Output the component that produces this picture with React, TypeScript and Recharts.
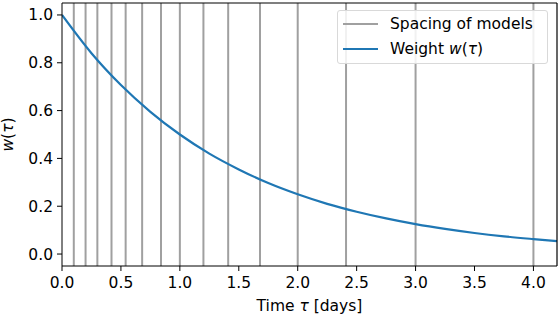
import React from 'react';
import { LineChart, Line, XAxis, YAxis, ReferenceLine } from 'recharts';

// values
const tau = [0, 0.25, 0.5, 0.75, 1.0, 1.25, 1.5, 1.75, 2.0, 2.25, 2.5, 2.75, 3.0, 3.25, 3.5, 3.75, 4.0, 4.2];
const weight = [1.0, 0.84, 0.707, 0.595, 0.5, 0.42, 0.354, 0.297, 0.25, 0.21, 0.177, 0.149, 0.125, 0.105, 0.088, 0.074, 0.0625, 0.054];
const modelSpacing = [0.1, 0.2, 0.3, 0.42, 0.54, 0.68, 0.84, 1.0, 1.2, 1.41, 1.68, 2.0, 2.41, 3.0, 4.0];
const xTicks = [0, 0.5, 1.0, 1.5, 2.0, 2.5, 3.0, 3.5, 4.0];
const yTicks = [0, 0.2, 0.4, 0.6, 0.8, 1.0];

const data = tau.map((t, i) => ({ tau: t, weight: weight[i] }));

const FONT = 'DejaVu Sans, sans-serif';
const FS = 15.5;
const BLUE = '#1f77b4';
const GREY = '#a0a0a0';

const LegendBox = () => (
  <div
    style={{
      position: 'absolute',
      left: 337,
      top: 10,
      width: 211,
      height: 54,
      border: '1px solid #d9d9d9',
      borderRadius: 3,
      background: 'rgba(255,255,255,0.85)',
      fontFamily: FONT,
      fontSize: FS,
      lineHeight: '18px',
      color: '#000',
      boxSizing: 'border-box',
    }}
  >
    <div style={{ position: 'absolute', left: 5, top: 12, width: 35, height: 2, background: GREY }} />
    <div style={{ position: 'absolute', left: 52, top: 4, whiteSpace: 'nowrap' }}>Spacing of models</div>
    <div style={{ position: 'absolute', left: 5, top: 37, width: 35, height: 2, background: BLUE }} />
    <div style={{ position: 'absolute', left: 52, top: 29, whiteSpace: 'nowrap' }}>
      Weight <i>w</i>(<i>τ</i>)
    </div>
  </div>
);

const App: React.FC = () => {
  return (
    <div style={{ position: 'absolute', left: 0, top: 0, width: 558, height: 316, background: 'white' }}>
      <LineChart width={558} height={316} data={data} margin={{ top: 3, right: 1, bottom: 0, left: 0 }}>
        <XAxis
          dataKey="tau"
          type="number"
          domain={[0, 4.2]}
          ticks={xTicks}
          tickFormatter={(v: number) => v.toFixed(1)}
          allowDataOverflow
          height={50}
          stroke="#000"
          tickSize={5}
          tickMargin={6}
          tick={{ fill: '#000', fontSize: FS, fontFamily: FONT }}
          label={(props: any) => {
            const vb = props.viewBox;
            return (
              <text x={vb.x + vb.width / 2} y={311} textAnchor="middle" fill="#000" fontSize={FS} fontFamily={FONT}>
                Time <tspan fontStyle="italic">τ</tspan> [days]
              </text>
            );
          }}
        />
        <YAxis
          type="number"
          domain={[-0.05, 1.05]}
          ticks={yTicks}
          tickFormatter={(v: number) => v.toFixed(1)}
          allowDataOverflow
          width={62}
          stroke="#000"
          tickSize={5}
          tickMargin={4}
          tick={{ fill: '#000', fontSize: FS, fontFamily: FONT }}
          label={(props: any) => {
            const vb = props.viewBox;
            const cy = vb.y + vb.height / 2;
            return (
              <text x={13} y={cy} transform={`rotate(-90 13 ${cy})`} textAnchor="middle" fill="#000" fontSize={FS} fontFamily={FONT}>
                <tspan fontStyle="italic">w</tspan>(<tspan fontStyle="italic">τ</tspan>)
              </text>
            );
          }}
        />
        {modelSpacing.map((x) => (
          <ReferenceLine key={x} x={x} stroke={GREY} strokeWidth={2} />
        ))}
        <Line type="monotone" dataKey="weight" stroke={BLUE} strokeWidth={2.2} dot={false} isAnimationActive={false} />
        <ReferenceLine y={1.05} stroke="#000" strokeWidth={1.2} ifOverflow="visible" />
        <ReferenceLine x={4.2} stroke="#000" strokeWidth={1.2} ifOverflow="visible" />
      </LineChart>
      <LegendBox />
    </div>
  );
};

export default App;
